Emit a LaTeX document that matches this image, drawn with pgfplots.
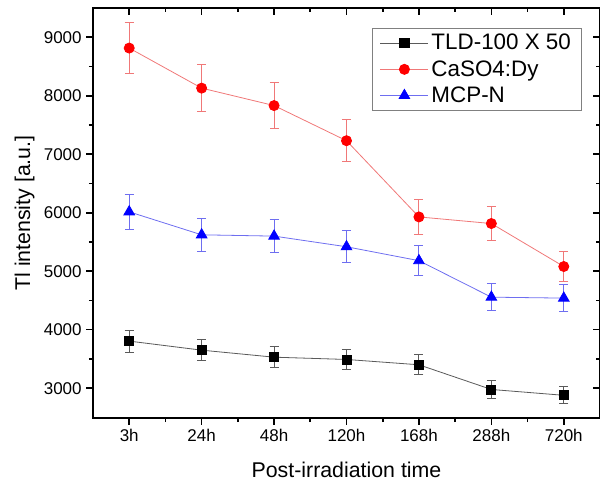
\documentclass[border=0pt]{standalone}
\usepackage{pgfplots}
\pgfplotsset{compat=1.18}
\usepackage{fontspec}
\setmainfont{Liberation Sans}
\usetikzlibrary{calc}
\definecolor{tldline}{RGB}{90,90,90}
\definecolor{casline}{RGB}{240,120,120}
\definecolor{mcpline}{RGB}{110,110,240}
\pgfplotsset{
  frame/.style={
    scale only axis,
    width=380.25pt, height=307.5pt,
    xmin=-0.5, xmax=6.5,
    ymin=2490, ymax=9500,
    xtick={0,1,2,3,4,5,6},
    ytick={3000,4000,5000,6000,7000,8000,9000},
    minor x tick num=1,
    minor y tick num=1,
    major tick length=5pt,
    minor tick length=3pt,
    every tick/.style={black, line width=1.2pt},
    axis line style={line width=1.4pt},
  }
}
\begin{document}
\begin{tikzpicture}
\begin{axis}[
  frame,
  name=ax,
  xticklabels={3h,24h,48h,120h,168h,288h,720h},
  tick align=outside,
  xtick pos=left, ytick pos=left,
  /pgf/number format/assume math mode=true,
  /pgf/number format/set thousands separator={},
  tick label style={font=\fontsize{12.75}{14}\selectfont},
  xlabel={Post-irradiation time},
  ylabel={Tl intensity [a.u.]},
  xlabel style={yshift=-8pt},
  label style={font=\fontsize{16}{18}\selectfont},
  legend style={at={(0.9645,0.952)}, anchor=north east, draw=gray, line width=0.6pt,
    font=\fontsize{16.8}{19.5}\selectfont, inner xsep=6pt, inner ysep=1.5pt,
    /tikz/every even column/.append style={column sep=3pt},
    nodes={inner ysep=3.2pt}},
  legend cell align=left,
  legend image code/.code={
    \draw[#1, mark repeat=2, mark phase=2] plot coordinates {(0pt,0pt) (18pt,0pt) (36pt,0pt)};
  },
]
\addplot+[tldline, line width=0.6pt, mark=square*, mark size=3.4pt,
  mark options={fill=black, draw=black},
  error bars/.cd, y dir=both, y explicit,
  error bar style={tldline, line width=0.7pt},
  error mark options={rotate=90, mark size=3.4pt, tldline, line width=0.7pt}]
  coordinates {
  (0,3805) +- (0,190)
  (1,3650) +- (0,180)
  (2,3530) +- (0,175)
  (3,3491) +- (0,172)
  (4,3400) +- (0,172)
  (5,2978) +- (0,150)
  (6,2878) +- (0,145)
  };
\addlegendentry{TLD-100 X 50}
\addplot+[casline, line width=0.6pt, mark=*, mark size=3.8pt,
  mark options={fill=red, draw=red},
  error bars/.cd, y dir=both, y explicit,
  error bar style={casline, line width=0.7pt},
  error mark options={rotate=90, mark size=3.4pt, casline, line width=0.7pt}]
  coordinates {
  (0,8815) +- (0,436)
  (1,8130) +- (0,405)
  (2,7832) +- (0,393)
  (3,7231) +- (0,362)
  (4,5928) +- (0,297)
  (5,5815) +- (0,285)
  (6,5080) +- (0,255)
  };
\addlegendentry{CaSO4:Dy}
\addplot+[mcpline, line width=0.6pt, mark=triangle*, mark size=4.6pt,
  mark options={fill=blue, draw=blue},
  error bars/.cd, y dir=both, y explicit,
  error bar style={mcpline, line width=0.7pt},
  error mark options={rotate=90, mark size=3.4pt, mcpline, line width=0.7pt}]
  coordinates {
  (0,6015) +- (0,298)
  (1,5622) +- (0,281)
  (2,5600) +- (0,280)
  (3,5418) +- (0,270)
  (4,5180) +- (0,255)
  (5,4556) +- (0,226)
  (6,4540) +- (0,226)
  };
\addlegendentry{MCP-N}
\end{axis}
\begin{axis}[
  frame,
  tick align=inside,
  xtick pos=right, ytick pos=right,
  xticklabels={}, yticklabels={},
]
\end{axis}
\pgfresetboundingbox
\useasboundingbox ($(ax.south west)+(-69.75pt,-48.75pt)$) rectangle ($(ax.north east)+(0pt,6pt)$);
\end{tikzpicture}
\end{document}
